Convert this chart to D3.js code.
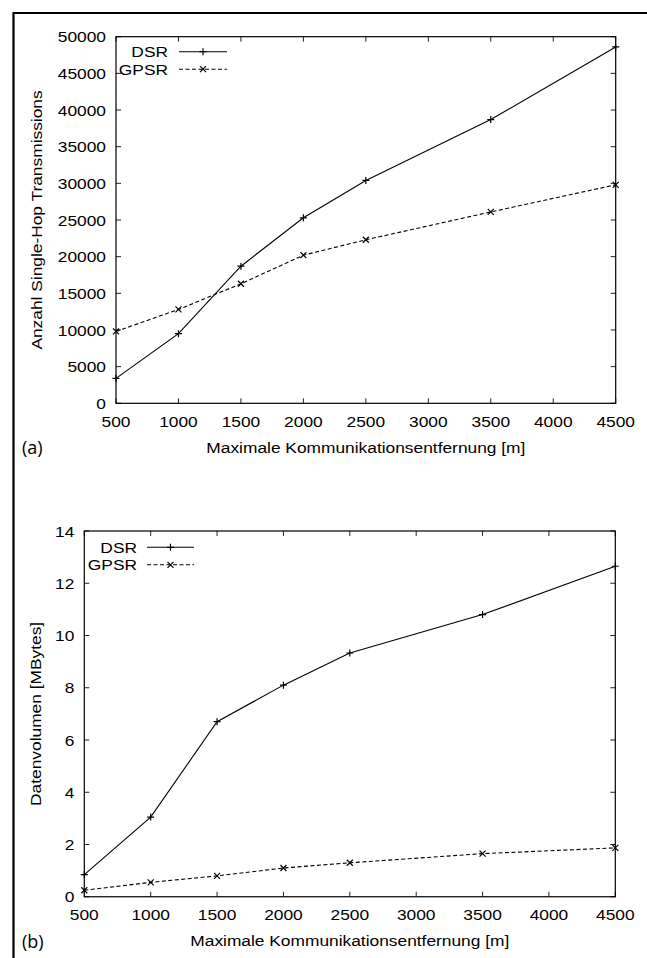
<!DOCTYPE html>
<html><head><meta charset="utf-8">
<script src="https://cdn.jsdelivr.net/npm/d3@7"></script>
<style>body{margin:0;background:#fff}svg{display:block}</style>
</head><body>
<script>
const xValues = [500, 1000, 1500, 2000, 2500, 3500, 4500];
const xTicks = [500, 1000, 1500, 2000, 2500, 3000, 3500, 4000, 4500];
const seriesNames = ["DSR", "GPSR"];
const dsrA = [3400, 9500, 18700, 25300, 30400, 38700, 48600];
const gpsrA = [9800, 12800, 16300, 20200, 22300, 26100, 29800];
const yTicksA = [0, 5000, 10000, 15000, 20000, 25000, 30000, 35000, 40000, 45000, 50000];
const dsrB = [0.85, 3.05, 6.7, 8.1, 9.33, 10.8, 12.65];
const gpsrB = [0.25, 0.55, 0.8, 1.1, 1.3, 1.65, 1.87];
const yTicksB = [0, 2, 4, 6, 8, 10, 12, 14];
const xTitle = "Maximale Kommunikationsentfernung [m]";
const yTitleA = "Anzahl Single-Hop Transmissions";
const yTitleB = "Datenvolumen [MBytes]";

const W = 647, H = 958;
const svg = d3.select("body").append("svg").attr("width", W).attr("height", H);
const FONT = "'Liberation Sans', Arial, Helvetica, sans-serif";
const FS = 15.5, SX = 1.12;

function txt(g, x, y, s, anchor, rot) {
  const t = g.append("g").attr("transform", `translate(${x},${y}) rotate(${rot||0}) scale(${SX},1)`);
  t.append("text").attr("x", 0).attr("y", 0)
    .attr("text-anchor", anchor || "middle").attr("dominant-baseline", "central")
    .attr("font-family", FONT).attr("font-size", FS).attr("fill", "#000").text(s);
  return t;
}

// outer frame (top & left)
svg.append("line").attr("x1", 13.5).attr("x2", W).attr("y1", 13).attr("y2", 13).attr("stroke", "#000").attr("stroke-width", 2.2);
svg.append("line").attr("x1", 13.5).attr("x2", 13.5).attr("y1", 12).attr("y2", H).attr("stroke", "#000").attr("stroke-width", 2.2);

function panel(cfg) {
  const g = svg.append("g");
  const x = d3.scaleLinear().domain([500, 4500]).range([cfg.left, cfg.right]);
  const y = d3.scaleLinear().domain([0, cfg.yMax]).range([cfg.bottom, cfg.top]);
  const tl = 5;
  const tk = g.append("g").attr("stroke", "#222").attr("stroke-width", 1);
  xTicks.forEach(v => {
    tk.append("line").attr("x1", x(v)).attr("x2", x(v)).attr("y1", cfg.bottom).attr("y2", cfg.bottom - tl);
    tk.append("line").attr("x1", x(v)).attr("x2", x(v)).attr("y1", cfg.top).attr("y2", cfg.top + tl);
  });
  cfg.yTicks.forEach(v => {
    tk.append("line").attr("x1", cfg.left).attr("x2", cfg.left + tl).attr("y1", y(v)).attr("y2", y(v));
    tk.append("line").attr("x1", cfg.right).attr("x2", cfg.right - tl).attr("y1", y(v)).attr("y2", y(v));
  });
  g.append("rect").attr("x", cfg.left).attr("y", cfg.top)
    .attr("width", cfg.right - cfg.left).attr("height", cfg.bottom - cfg.top)
    .attr("fill", "none").attr("stroke", "#000").attr("stroke-width", 1.2);
  xTicks.forEach(v => txt(g, x(v), cfg.bottom + 18, String(v), "middle"));
  cfg.yTicks.forEach(v => txt(g, cfg.left - 10, y(v), String(v), "end"));
  txt(g, (cfg.left + cfg.right) / 2, cfg.bottom + 44, xTitle, "middle");
  txt(g, cfg.yTitleX, (cfg.top + cfg.bottom) / 2, cfg.yTitle, "middle", -90);
  g.append("text").attr("x", 22).attr("y", cfg.bottom + 44).attr("dominant-baseline", "central")
    .attr("font-family", "'Open Sans', Lato, sans-serif").attr("font-size", 18).attr("fill", "#000").text(cfg.label);

  const line = d3.line().x((d, i) => x(xValues[i])).y(d => y(d));
  const dash = ["none", "4,2.5"];
  const plus = (sel, cx, cy) => {
    sel.append("path").attr("d", `M${cx - 3.5},${cy}H${cx + 3.5}M${cx},${cy - 3.5}V${cy + 3.5}`)
      .attr("stroke", "#000").attr("stroke-width", 1.2).attr("fill", "none");
  };
  const cross = (sel, cx, cy) => {
    sel.append("path").attr("d", `M${cx - 3},${cy - 3}L${cx + 3},${cy + 3}M${cx - 3},${cy + 3}L${cx + 3},${cy - 3}`)
      .attr("stroke", "#000").attr("stroke-width", 1.2).attr("fill", "none");
  };
  const markers = [plus, cross];
  [cfg.dsr, cfg.gpsr].forEach((data, si) => {
    g.append("path").datum(data).attr("d", line).attr("fill", "none")
      .attr("stroke", "#000").attr("stroke-width", 1.1).attr("stroke-dasharray", dash[si]);
    data.forEach((d, i) => markers[si](g, x(xValues[i]), y(d)));
  });
  seriesNames.forEach((n, si) => {
    const ly = cfg.legY + si * 17.5;
    txt(g, cfg.legTextX, ly, n, "end");
    g.append("line").attr("x1", cfg.legX1).attr("x2", cfg.legX2).attr("y1", ly).attr("y2", ly)
      .attr("stroke", "#000").attr("stroke-width", 1.1).attr("stroke-dasharray", dash[si]);
    markers[si](g, (cfg.legX1 + cfg.legX2) / 2, ly);
  });
}

panel({left: 116, right: 615.7, top: 36.7, bottom: 403.3, yMax: 50000, yTicks: yTicksA,
  dsr: dsrA, gpsr: gpsrA, yTitle: yTitleA, yTitleX: 36, label: "(a)",
  legY: 51.7, legTextX: 168, legX1: 179, legX2: 227});
panel({left: 84.3, right: 615.3, top: 531, bottom: 896.75, yMax: 14, yTicks: yTicksB,
  dsr: dsrB, gpsr: gpsrB, yTitle: yTitleB, yTitleX: 35, label: "(b)",
  legY: 547.3, legTextX: 137, legX1: 147, legX2: 194});
</script>
</body></html>
